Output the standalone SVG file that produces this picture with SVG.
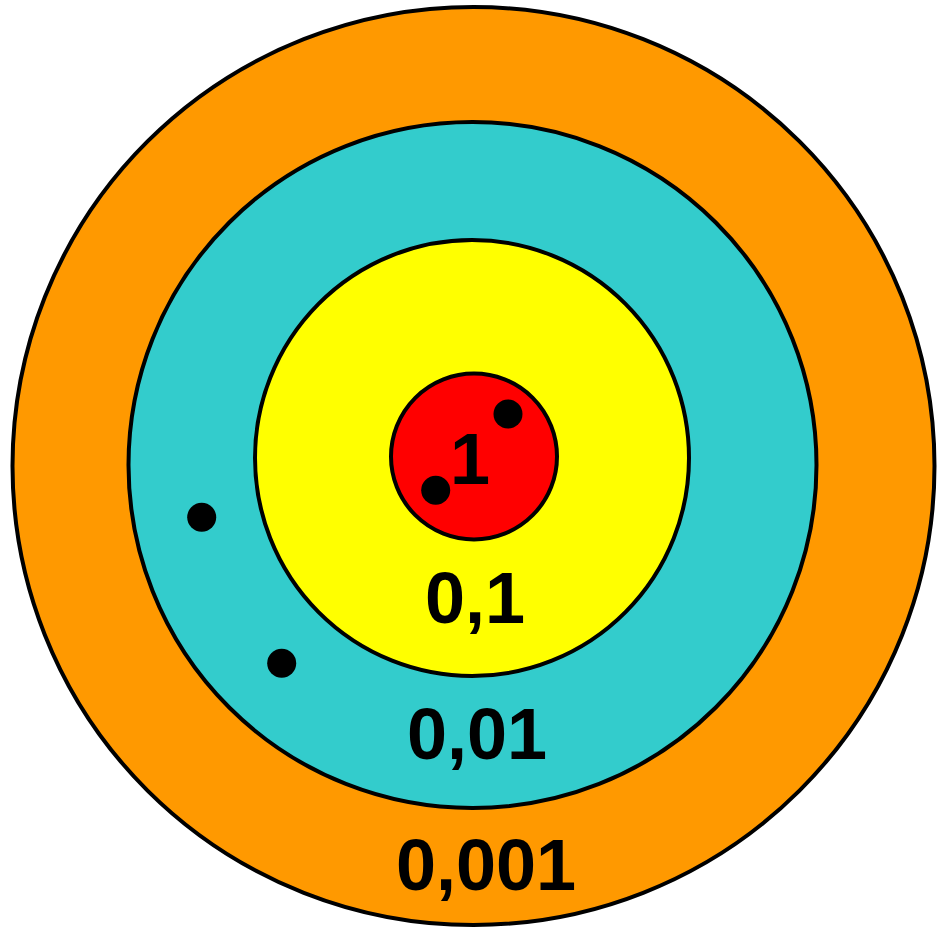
<svg xmlns="http://www.w3.org/2000/svg" width="937" height="930" viewBox="0 0 937 930">
<style>
.ring{stroke:#000;stroke-width:4}
.lbl{font-family:"Liberation Sans",Arial,sans-serif;font-weight:bold;font-size:72px;fill:#000;text-anchor:middle}
.dot{fill:#000}
</style>
<rect width="937" height="930" fill="#fff"/>
<g id="ring-0001">
<ellipse class="ring" cx="473.5" cy="466" rx="461" ry="459" fill="#FF9900"/>
<text class="lbl" x="486" y="890">0,001</text>
</g>
<g id="ring-001">
<ellipse class="ring" cx="472.5" cy="465" rx="344" ry="343" fill="#33CCCC"/>
<text class="lbl" x="477" y="759">0,01</text>
</g>
<g id="ring-01">
<ellipse class="ring" cx="472" cy="458" rx="217" ry="218" fill="#FFFF00"/>
<text class="lbl" x="475" y="623">0,1</text>
</g>
<g id="ring-1">
<circle class="ring" cx="474" cy="456.5" r="83" fill="#FF0000"/>
<text class="lbl" x="470" y="484">1</text>
</g>
<g id="dots">
<circle class="dot" cx="508" cy="414" r="14.5"/>
<circle class="dot" cx="435.7" cy="490.3" r="14.5"/>
<circle class="dot" cx="201.7" cy="517.3" r="14.5"/>
<circle class="dot" cx="281.7" cy="663.3" r="14.5"/>
</g>
</svg>
